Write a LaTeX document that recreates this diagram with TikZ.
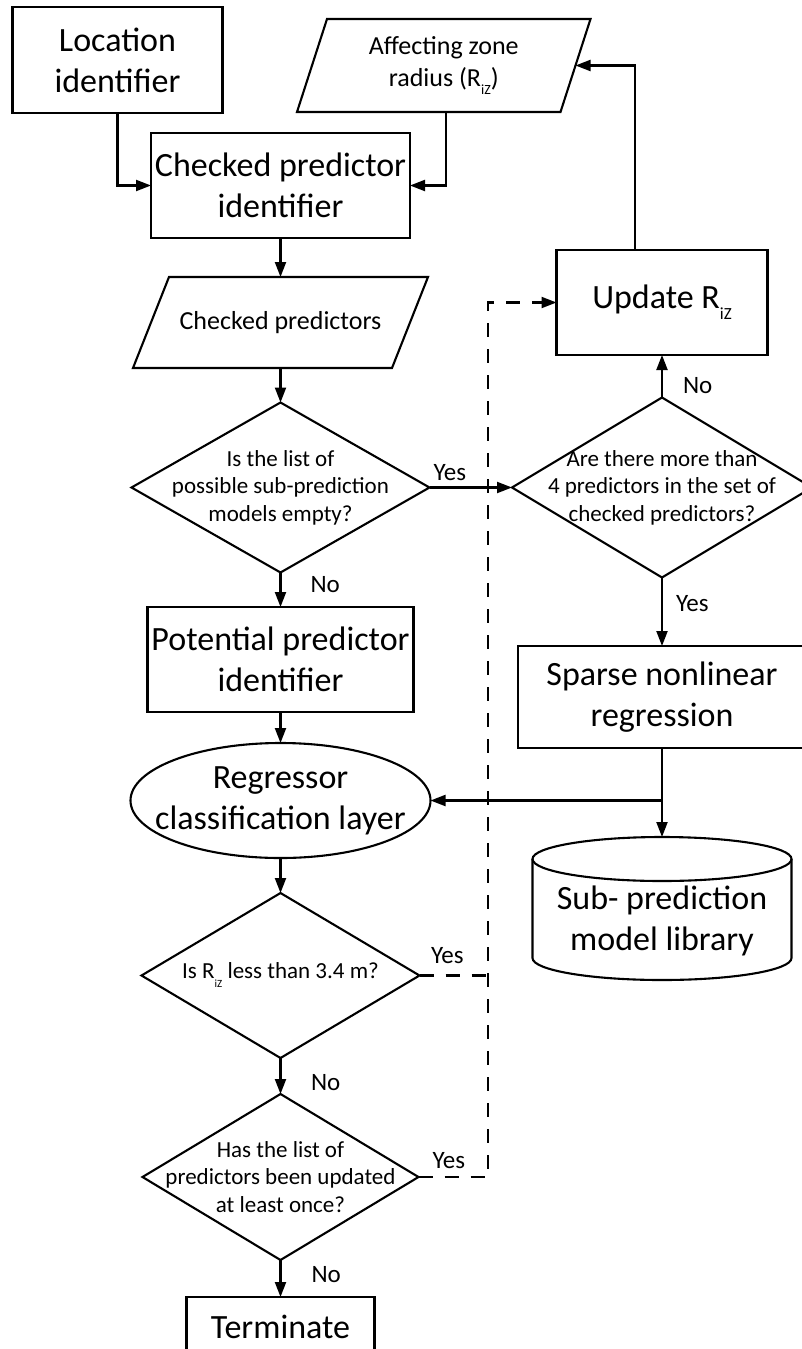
\documentclass[tikz,border=0pt]{standalone}
\usepackage{fontspec}
\setmainfont{Carlito}
\usetikzlibrary{arrows.meta,shapes.geometric}
\newcommand\bigf{\fontsize{34}{41}\selectfont}
\newcommand\midf{\fontsize{26}{32.5}\selectfont}
\newcommand\dtf{\fontsize{23}{27.5}\selectfont}
\newcommand\lblf{\fontsize{25}{30}\selectfont}
\newcommand\subiz[2]{\raisebox{-#2pt}{\fontsize{#1}{#1}\selectfont iZ}}
\begin{document}
\begin{tikzpicture}[x=1pt,y=-1pt,
  line width=2.1pt,
  shp/.style={draw, line width=2.1pt, outer sep=0pt},
  box/.style={shp, rectangle, inner sep=0pt, align=center, font=\bigf},
  dia/.style={shp, diamond, inner sep=0pt},
  txt/.style={align=center, inner sep=0pt, outer sep=0pt},
  lbl/.style={inner sep=0pt, font=\lblf},
  arr/.style={-{Triangle[length=15pt,width=11pt]}},
  dsh/.style={dash pattern=on 14pt off 12pt},
]
\fill[white] (0,0) rectangle (802,1349);
\useasboundingbox (0,0) rectangle (802,1349);

% nodes
\node[box, minimum width=210pt, minimum height=106pt] (loc) at (117.5,60) {Location\\identifier};
\node[box, minimum width=259pt, minimum height=105pt] (cpi) at (280.5,185.5) {Checked predictor\\identifier};

\node[txt, font=\midf, minimum width=263.5pt, minimum height=93pt] (aff) at (443.75,65.5) {Affecting zone\\radius (R\subiz{14}{8})};
\draw[shp] ([xshift=15pt]aff.north west) -- ([xshift=15pt]aff.north east) -- ([xshift=-15pt]aff.south east) -- ([xshift=-15pt]aff.south west) -- cycle;

\node[txt, font=\midf, minimum width=259pt, minimum height=91pt] (cp) at (280.5,322.5) {Checked predictors};
\draw[shp] ([xshift=18pt]cp.north west) -- ([xshift=18pt]cp.north east) -- ([xshift=-18pt]cp.south east) -- ([xshift=-18pt]cp.south west) -- cycle;

\node[dia, minimum width=298pt, minimum height=170pt] (d1) at (280.5,487.5) {};
\node[txt, font=\dtf] (d1t) at (d1) {Is the list of\\possible sub-prediction\\models empty?};

\node[dia, minimum width=300pt, minimum height=180pt] (d2) at (662,487.5) {};
\node[txt, font=\dtf] (d2t) at (d2) {Are there more than\\4 predictors in the set of\\checked predictors?};

\node[box, minimum width=211pt, minimum height=105pt] (upd) at (662,302.5) {Update R\subiz{17}{11}};

\node[box, minimum width=266pt, minimum height=105pt] (pot) at (280.5,659.5) {Potential predictor\\identifier};

\node[box, minimum width=288pt, minimum height=102pt] (sp) at (662,697) {Sparse nonlinear\\regression};

\node[shp, ellipse, inner sep=0pt, minimum width=300pt, minimum height=115pt] (el) at (280.5,800.5) {};
\node[txt, font=\bigf] (elt) at (el) {Regressor\\classification layer};

% cylinder
\coordinate (libtop) at (662,837);
\draw[shp] (662,859) ellipse [x radius=129.5, y radius=22];
\draw[shp] (532.5,859) -- (532.5,958) arc[start angle=180, end angle=0, x radius=129.5, y radius=22] -- (791.5,859);
\node[txt, font=\bigf] (lib) at (662,921) {Sub- prediction\\model library};

\node[dia, minimum width=278pt, minimum height=165pt] (d3) at (280.5,975.5) {};
\node[txt, font=\dtf] (d3t) at (d3) {Is R\subiz{11}{9} less than 3.4 m?};

\node[dia, minimum width=276pt, minimum height=166pt] (d4) at (280.5,1177) {};
\node[txt, font=\dtf] (d4t) at (d4) {Has the list of\\predictors been updated\\at least once?};

\node[box, minimum width=188pt, minimum height=60pt] (term) at (280.5,1327) {Terminate};

% connectors
\draw[arr] (loc.south) |- (cpi.west);
\draw[arr] ([xshift=2pt]aff.south) |- (cpi.east);
\draw[arr] (cpi.south) -- (cp.north);
\draw[arr] (cp.south) -- (d1.north);
\draw[arr] (d1.east) -- (d2.west);
\draw[arr] (d1.south) -- (pot.north);
\draw[arr] (d2.north) -- (upd.south);
\draw[arr] (d2.south) -- (sp.north);
\draw[arr] ([xshift=-27pt]upd.north) |- (aff.east);
\coordinate (jn) at (sp.south |- el.east);
\draw (sp.south) -- (jn);
\draw[arr] (jn) -- (el.east);
\draw[arr] (jn) -- (libtop);
\draw[arr] (pot.south) -- (el.north);
\draw[arr] (el.south) -- (d3.north);
\draw[arr] (d3.south) -- (d4.north);
\draw[arr] (d4.south) -- (term.north);
\coordinate (dx) at (488,0);
\coordinate (dtop) at (upd.west -| dx);
\draw[dsh,arr] (d4.east) -| (dtop) -- (upd.west);
\draw[dsh] (d3.east) -- (d3.east -| dx);

% labels
\node[lbl, anchor=base west] (y1) at ([xshift=3pt,yshift=7pt]d1.east) {Yes};
\node[lbl, anchor=base west] (n1) at ([xshift=29pt,yshift=-19.5pt]d1.south) {No};
\node[lbl, anchor=base west] (n2) at ([xshift=20pt,yshift=4pt]d2.north) {No};
\node[lbl, anchor=base west] (y2) at ([xshift=13pt,yshift=-34pt]d2.south) {Yes};
\node[lbl, anchor=base west] (y3) at ([xshift=10.5pt,yshift=12.5pt]d3.east) {Yes};
\node[lbl, anchor=base west] (n3) at ([xshift=29.5pt,yshift=-32pt]d3.south) {No};
\node[lbl, anchor=base west] (y4) at ([xshift=13pt,yshift=9pt]d4.east) {Yes};
\node[lbl, anchor=base west] (n4) at ([xshift=30pt,yshift=-22pt]d4.south) {No};
\end{tikzpicture}
\end{document}
